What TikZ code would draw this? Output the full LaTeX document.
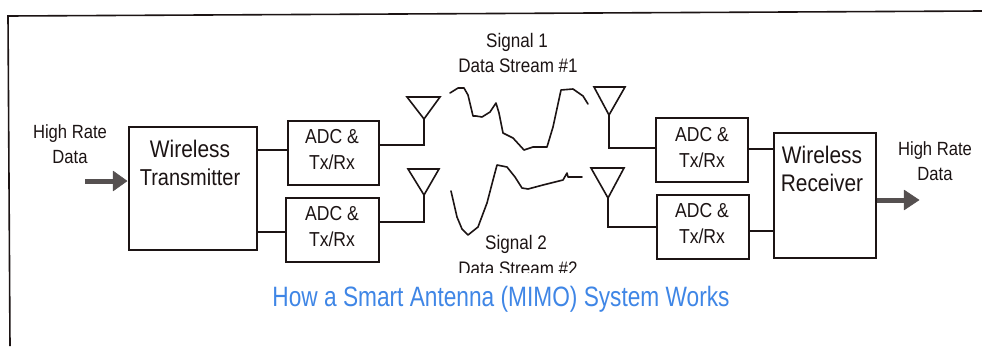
\documentclass[tikz,border=0pt]{standalone}
\usepackage{fontspec}
\setmainfont[FakeStretch=0.87]{Liberation Sans}
\newfontfamily\titlefont[FakeStretch=0.81]{Liberation Sans}
\definecolor{titleblue}{HTML}{3F86E6}
\definecolor{arrowgray}{HTML}{555050}
\definecolor{ink}{HTML}{1C1414}
\tikzset{
  blockbox/.style={draw=ink,line width=1.6pt,fill=white,inner sep=0pt,anchor=north west},
  wire/.style={draw=ink,line width=1.6pt,line join=miter},
  wave/.style={draw=ink,line width=1.6pt,line join=round,line cap=round},
  lab/.style={text=ink,inner sep=0pt,align=center,font=\fontsize{#1}{#1}\selectfont},
  lab/.default=19.6,
  fat/.style={draw=arrowgray,line width=5pt},
  fathead/.style={fill=arrowgray,draw=arrowgray,line width=.5pt,line join=round}
}
\newcommand{\antenna}[4]{% apex name, half-width left, half-width right, height
  \draw[wire] ([shift={(-#2,-#4)}]#1) -- ([shift={(#3,-#4)}]#1) -- (#1) -- cycle;}
\begin{document}
\begin{tikzpicture}[x=1pt,y=-1pt]
\useasboundingbox (0,0) rectangle (982,346);
\fill[white] (0,0) rectangle (982,346);
% frame
\coordinate (fa) at (10,346); \coordinate (fb) at (8,16); \coordinate (fc) at (982,11);
\draw[wire] (fa) -- (fb) -- (fc);
% blocks
\node[blockbox,minimum width=128pt,minimum height=123pt] (tx) at (128,126) {};
\node[blockbox,minimum width=91pt,minimum height=64pt] (adc1) at (287,120) {};
\node[blockbox,minimum width=93pt,minimum height=64pt] (adc2) at (285,197) {};
\node[blockbox,minimum width=92pt,minimum height=64pt] (adc3) at (655,117) {};
\node[blockbox,minimum width=92pt,minimum height=64pt] (adc4) at (656,194) {};
\node[blockbox,minimum width=102pt,minimum height=125pt] (rx) at (773,132) {};
% antenna apexes
\coordinate (ant1) at (424,119);
\coordinate (ant2) at (424,195);
\coordinate (ant3) at (609,115);
\coordinate (ant4) at (608,198);
\antenna{ant1}{17}{16}{22}
\antenna{ant2}{16}{15}{26}
\antenna{ant3}{15}{16}{28}
\antenna{ant4}{17}{16}{30}
% connectors
\draw[wire] (tx.east |- 0,150) -- (adc1.west |- 0,150);
\draw[wire] (tx.east |- 0,232) -- (adc2.west |- 0,232);
\draw[wire] (adc1.east |- 0,145) -| (ant1);
\draw[wire] (adc2.east |- 0,222) -| (ant2);
\draw[wire] (adc3.west |- 0,148) -| (ant3);
\draw[wire] (adc4.west |- 0,227) -| (ant4);
\draw[wire] (adc3.east |- 0,149) -- (rx.west |- 0,149);
\draw[wire] (adc4.east |- 0,231) -- (rx.west |- 0,231);
% thick arrows
\coordinate (inS) at (85,181);
\coordinate (outE) at (919,200);
\draw[fat] (inS) -- ([xshift=-8]tx.west |- inS);
\fill[fathead] ([xshift=-15,yshift=-10]tx.west |- inS) -- ([xshift=-1]tx.west |- inS) -- ([xshift=-15,yshift=10]tx.west |- inS) -- cycle;
\draw[fat] (rx.east |- outE) -- ([xshift=-10]outE);
\fill[fathead] ([shift={(-15,-10)}]outE) -- (outE) -- ([shift={(-15,10)}]outE) -- cycle;
% waves
\draw[wave] (450,93) -- (458,88) -- (464,88) -- (468,95) -- (473,116) -- (476,116) -- (482,117) -- (490,112) -- (496,103) -- (499,113) -- (503,133) -- (513,138) -- (524,150) -- (533,147) -- (547,147) -- (553,127) -- (561,90) -- (573,89) -- (583,96) -- (588,104);
\draw[wave] (451,191) -- (457,217) -- (462,229) -- (468,235) -- (478,227) -- (487,203) -- (493,180) -- (497,165) -- (507,167) -- (515,177) -- (522,188) -- (528,189) -- (543,185) -- (563,180) -- (567,173) -- (568,177) -- (582,177);
% labels
\node[lab=19.1] (t1) at (70,133.5) {High Rate};
\node[lab=19.1] (t2) at (70,157) {Data};
\node[lab=24] (t3) at (190,149) {Wireless};
\node[lab=23] (t4) at (190,177) {Transmitter};
\node[lab=20.2] (t5) at (332,137) {ADC \&};
\node[lab=20.2] (t6) at (332,162) {Tx/Rx};
\node[lab=20.2] (t7) at (332,214) {ADC \&};
\node[lab=20.2] (t8) at (332,239) {Tx/Rx};
\node[lab] (t9) at (517,42.5) {Signal 1};
\node[lab] (t10) at (518,66) {Data Stream \#1};
\node[lab] (t11) at (516,244.5) {Signal 2};
\begin{scope}
\clip (440,258) rectangle (600,272);
\node[lab] (t12) at (518,269) {Data Stream \#2};
\end{scope}
\node[lab=20.2] (t13) at (702,135) {ADC \&};
\node[lab=20.2] (t14) at (702,160) {Tx/Rx};
\node[lab=20.2] (t15) at (702,211) {ADC \&};
\node[lab=20.2] (t16) at (702,236) {Tx/Rx};
\node[lab=24] (t17) at (822,155) {Wireless};
\node[lab=24] (t18) at (822,183) {Receiver};
\node[lab=19.1] (t19) at (935,150.5) {High Rate};
\node[lab=19.1] (t20) at (935,174) {Data};
\node[lab=28,text=titleblue,font=\fontsize{28}{28}\titlefont] (t21) at (501,299) {How a Smart Antenna (MIMO) System Works};
\end{tikzpicture}
\end{document}
